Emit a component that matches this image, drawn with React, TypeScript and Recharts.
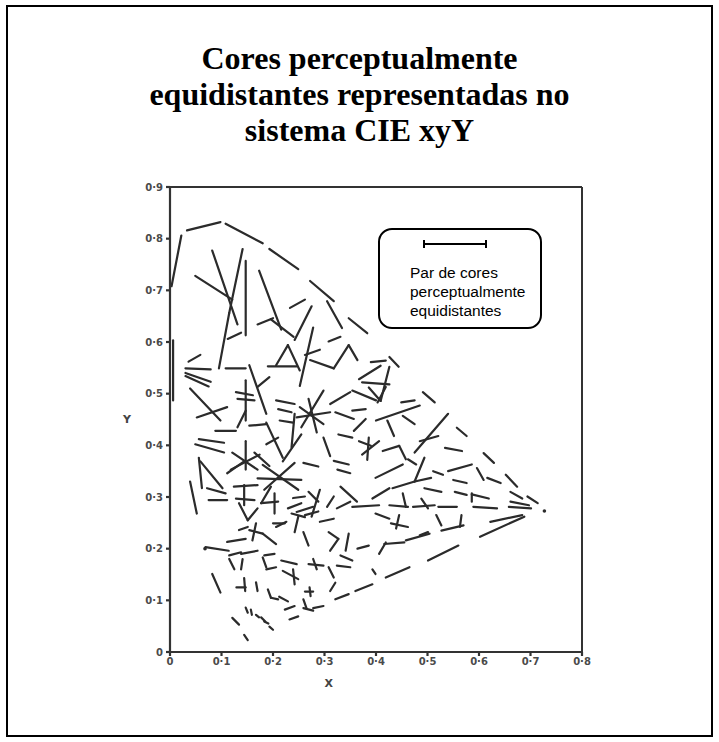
import React from "react";
import {
  ComposedChart,
  XAxis,
  YAxis,
  Scatter,
  ReferenceLine,
  Legend,
} from "recharts";

// axis ticks
const X_TICKS = [0, 0.1, 0.2, 0.3, 0.4, 0.5, 0.6, 0.7, 0.8];
const Y_TICKS = [0, 0.1, 0.2, 0.3, 0.4, 0.5, 0.6, 0.7, 0.8, 0.9];

// [x1, y1, x2, y2] in CIE xy units
const locusSegments = [
  [0.003, 0.708, 0.022, 0.806],
  [0.033, 0.816, 0.098, 0.832],
  [0.108, 0.829, 0.18, 0.791],
  [0.193, 0.78, 0.249, 0.741],
  [0.272, 0.718, 0.318, 0.679],
  [0.305, 0.679, 0.334, 0.627],
  [0.347, 0.646, 0.383, 0.617],
  [0.39, 0.561, 0.419, 0.564],
  [0.426, 0.571, 0.444, 0.552],
  [0.491, 0.503, 0.514, 0.483],
  [0.557, 0.434, 0.576, 0.418],
  [0.609, 0.385, 0.629, 0.366],
  [0.652, 0.343, 0.674, 0.32],
  [0.694, 0.301, 0.714, 0.288],
  [0.006, 0.603, 0.006, 0.487],
];

const purpleSegments = [
  [0.602, 0.223, 0.688, 0.262],
  [0.622, 0.252, 0.684, 0.265],
  [0.501, 0.177, 0.56, 0.206],
  [0.419, 0.144, 0.465, 0.164],
  [0.36, 0.118, 0.393, 0.131],
  [0.321, 0.102, 0.347, 0.112],
  [0.259, 0.085, 0.278, 0.08],
  [0.278, 0.085, 0.298, 0.089],
  [0.232, 0.063, 0.249, 0.069],
  [0.223, 0.082, 0.242, 0.089],
  [0.147, 0.086, 0.151, 0.076],
  [0.157, 0.082, 0.159, 0.072],
  [0.167, 0.072, 0.173, 0.067],
  [0.177, 0.067, 0.185, 0.059],
  [0.183, 0.059, 0.191, 0.055],
  [0.193, 0.049, 0.2, 0.043],
  [0.144, 0.033, 0.151, 0.023],
  [0.121, 0.066, 0.134, 0.053],
  [0.393, 0.16, 0.399, 0.151],
];

const upperPairs = [
  [0.082, 0.777, 0.131, 0.634],
  [0.141, 0.78, 0.115, 0.656],
  [0.115, 0.656, 0.095, 0.549],
  [0.049, 0.728, 0.121, 0.682],
  [0.147, 0.757, 0.147, 0.613],
  [0.173, 0.738, 0.216, 0.624],
  [0.17, 0.634, 0.2, 0.646],
  [0.196, 0.644, 0.24, 0.61],
  [0.233, 0.666, 0.262, 0.682],
  [0.275, 0.669, 0.242, 0.604],
  [0.112, 0.606, 0.138, 0.618],
  [0.278, 0.628, 0.252, 0.515],
  [0.308, 0.601, 0.331, 0.61],
  [0.206, 0.555, 0.229, 0.594],
  [0.229, 0.594, 0.252, 0.545],
  [0.19, 0.553, 0.246, 0.553],
  [0.262, 0.575, 0.291, 0.585],
  [0.272, 0.565, 0.318, 0.549],
  [0.318, 0.549, 0.347, 0.594],
  [0.347, 0.594, 0.364, 0.565],
  [0.036, 0.562, 0.059, 0.575],
  [0.03, 0.549, 0.079, 0.547],
  [0.03, 0.54, 0.079, 0.523],
  [0.03, 0.534, 0.075, 0.514],
  [0.108, 0.549, 0.147, 0.549],
  [0.154, 0.555, 0.187, 0.461],
  [0.147, 0.526, 0.147, 0.448],
  [0.128, 0.503, 0.161, 0.497],
  [0.131, 0.49, 0.164, 0.487],
  [0.17, 0.513, 0.193, 0.532],
  [0.039, 0.51, 0.098, 0.448],
  [0.052, 0.454, 0.111, 0.474],
  [0.206, 0.487, 0.242, 0.48],
  [0.21, 0.47, 0.236, 0.464],
  [0.311, 0.48, 0.35, 0.503],
  [0.321, 0.464, 0.357, 0.451],
  [0.367, 0.528, 0.409, 0.554],
  [0.373, 0.522, 0.426, 0.518],
  [0.386, 0.512, 0.409, 0.486],
  [0.426, 0.552, 0.409, 0.486],
  [0.354, 0.506, 0.4, 0.487],
  [0.403, 0.483, 0.419, 0.513],
  [0.449, 0.483, 0.475, 0.487],
  [0.354, 0.467, 0.38, 0.47],
  [0.4, 0.448, 0.485, 0.477],
];

const middlePairs = [
  [0.088, 0.428, 0.128, 0.428],
  [0.131, 0.435, 0.147, 0.467],
  [0.154, 0.438, 0.187, 0.441],
  [0.187, 0.444, 0.219, 0.376],
  [0.213, 0.448, 0.239, 0.444],
  [0.242, 0.461, 0.236, 0.396],
  [0.255, 0.435, 0.298, 0.506],
  [0.252, 0.474, 0.298, 0.441],
  [0.269, 0.49, 0.285, 0.425],
  [0.246, 0.454, 0.311, 0.464],
  [0.298, 0.415, 0.311, 0.379],
  [0.327, 0.421, 0.354, 0.415],
  [0.056, 0.412, 0.105, 0.405],
  [0.049, 0.402, 0.105, 0.386],
  [0.147, 0.408, 0.147, 0.353],
  [0.121, 0.386, 0.17, 0.353],
  [0.118, 0.353, 0.174, 0.382],
  [0.164, 0.386, 0.193, 0.36],
  [0.187, 0.402, 0.21, 0.415],
  [0.056, 0.376, 0.062, 0.317],
  [0.059, 0.369, 0.102, 0.317],
  [0.072, 0.317, 0.108, 0.307],
  [0.075, 0.294, 0.111, 0.294],
  [0.039, 0.33, 0.052, 0.268],
  [0.144, 0.323, 0.144, 0.284],
  [0.128, 0.297, 0.164, 0.294],
  [0.124, 0.32, 0.17, 0.323],
  [0.111, 0.346, 0.144, 0.369],
  [0.18, 0.362, 0.249, 0.314],
  [0.183, 0.314, 0.242, 0.366],
  [0.17, 0.336, 0.255, 0.333],
  [0.255, 0.421, 0.219, 0.369],
  [0.196, 0.32, 0.177, 0.288],
  [0.177, 0.288, 0.21, 0.291],
  [0.203, 0.307, 0.203, 0.268],
  [0.134, 0.288, 0.151, 0.255],
  [0.151, 0.255, 0.17, 0.278],
  [0.229, 0.278, 0.255, 0.288],
  [0.236, 0.268, 0.262, 0.261],
  [0.291, 0.314, 0.275, 0.262],
  [0.259, 0.366, 0.288, 0.359],
  [0.318, 0.37, 0.347, 0.363],
  [0.325, 0.353, 0.35, 0.346],
  [0.422, 0.448, 0.435, 0.418],
  [0.452, 0.457, 0.475, 0.441],
  [0.357, 0.428, 0.38, 0.451],
  [0.475, 0.386, 0.54, 0.461],
  [0.485, 0.408, 0.521, 0.418],
  [0.534, 0.395, 0.567, 0.389],
  [0.367, 0.408, 0.39, 0.399],
  [0.386, 0.415, 0.383, 0.372],
  [0.373, 0.382, 0.406, 0.408],
  [0.413, 0.389, 0.445, 0.399],
  [0.445, 0.399, 0.458, 0.373],
  [0.462, 0.373, 0.478, 0.363],
  [0.494, 0.376, 0.475, 0.33],
  [0.399, 0.337, 0.452, 0.363],
  [0.432, 0.317, 0.475, 0.33],
  [0.475, 0.33, 0.507, 0.337],
  [0.511, 0.35, 0.53, 0.343],
  [0.54, 0.35, 0.586, 0.363],
  [0.55, 0.333, 0.576, 0.327],
  [0.596, 0.356, 0.609, 0.333],
  [0.616, 0.337, 0.642, 0.327],
  [0.494, 0.317, 0.527, 0.31],
  [0.452, 0.307, 0.458, 0.281],
  [0.426, 0.284, 0.462, 0.281],
  [0.354, 0.281, 0.406, 0.284],
  [0.393, 0.297, 0.426, 0.317],
  [0.472, 0.281, 0.514, 0.284],
  [0.488, 0.297, 0.501, 0.278],
  [0.521, 0.281, 0.557, 0.281],
  [0.553, 0.31, 0.576, 0.304],
  [0.586, 0.307, 0.586, 0.291],
  [0.586, 0.305, 0.619, 0.297],
  [0.589, 0.281, 0.635, 0.278],
  [0.661, 0.31, 0.684, 0.297],
  [0.661, 0.291, 0.697, 0.284],
  [0.658, 0.281, 0.701, 0.278],
  [0.331, 0.32, 0.363, 0.291],
  [0.239, 0.298, 0.262, 0.301],
  [0.246, 0.271, 0.278, 0.281],
  [0.269, 0.31, 0.288, 0.291],
  [0.305, 0.281, 0.318, 0.301],
  [0.324, 0.278, 0.35, 0.291],
];

const lowerPairs = [
  [0.399, 0.268, 0.426, 0.258],
  [0.445, 0.265, 0.439, 0.239],
  [0.429, 0.249, 0.462, 0.242],
  [0.517, 0.265, 0.527, 0.245],
  [0.527, 0.235, 0.57, 0.245],
  [0.566, 0.265, 0.563, 0.242],
  [0.485, 0.226, 0.501, 0.232],
  [0.458, 0.216, 0.504, 0.229],
  [0.416, 0.209, 0.455, 0.212],
  [0.406, 0.19, 0.419, 0.212],
  [0.364, 0.2, 0.386, 0.206],
  [0.069, 0.203, 0.114, 0.196],
  [0.082, 0.151, 0.098, 0.115],
  [0.129, 0.125, 0.147, 0.125],
  [0.144, 0.143, 0.146, 0.118],
  [0.167, 0.135, 0.17, 0.118],
  [0.19, 0.121, 0.196, 0.105],
  [0.196, 0.105, 0.21, 0.102],
  [0.212, 0.107, 0.229, 0.098],
  [0.262, 0.117, 0.278, 0.117],
  [0.271, 0.125, 0.273, 0.108],
  [0.259, 0.102, 0.265, 0.085],
  [0.154, 0.236, 0.18, 0.229],
  [0.167, 0.249, 0.16, 0.216],
  [0.134, 0.236, 0.151, 0.242],
  [0.18, 0.229, 0.206, 0.209],
  [0.206, 0.242, 0.226, 0.252],
  [0.111, 0.213, 0.147, 0.219],
  [0.2, 0.249, 0.223, 0.249],
  [0.249, 0.262, 0.242, 0.232],
  [0.259, 0.232, 0.269, 0.206],
  [0.262, 0.265, 0.288, 0.272],
  [0.291, 0.252, 0.318, 0.258],
  [0.308, 0.232, 0.327, 0.219],
  [0.327, 0.219, 0.311, 0.196],
  [0.347, 0.229, 0.341, 0.196],
  [0.115, 0.187, 0.138, 0.193],
  [0.115, 0.18, 0.125, 0.16],
  [0.138, 0.19, 0.17, 0.196],
  [0.141, 0.18, 0.138, 0.16],
  [0.183, 0.187, 0.203, 0.19],
  [0.18, 0.183, 0.187, 0.164],
  [0.187, 0.16, 0.206, 0.164],
  [0.216, 0.177, 0.246, 0.17],
  [0.219, 0.157, 0.249, 0.141],
  [0.239, 0.16, 0.242, 0.131],
  [0.269, 0.17, 0.298, 0.167],
  [0.278, 0.18, 0.285, 0.16],
  [0.308, 0.164, 0.318, 0.144],
  [0.331, 0.187, 0.354, 0.177],
  [0.324, 0.167, 0.35, 0.164],
  [0.311, 0.118, 0.321, 0.134],
];

const looseDots = [
  { x: 0.727, y: 0.273 },
  { x: 0.068, y: 0.2 },
];

const INK = "#2b2b2b";
const fmt = (v: number) => (v === 0 ? "0" : `0·${Math.round(v * 10)}`);

const allSegments = [
  ...locusSegments,
  ...purpleSegments,
  ...upperPairs,
  ...middlePairs,
  ...lowerPairs,
];

const LegendBox = () => (
  <div
    style={{
      width: 164,
      height: 101,
      boxSizing: "border-box",
      border: "2px solid #000",
      borderRadius: 14,
      background: "#fff",
      position: "relative",
      fontFamily: "Arial, 'Liberation Sans', sans-serif",
      fontSize: 15.5,
      lineHeight: "19px",
      color: "#000",
      textAlign: "left",
    }}
  >
    <svg width={70} height={10} style={{ position: "absolute", left: 42, top: 9 }}>
      <line x1={2} y1={5} x2={64} y2={5} stroke="#000" strokeWidth={2} />
      <line x1={2} y1={1} x2={2} y2={9} stroke="#000" strokeWidth={2} />
      <line x1={64} y1={1} x2={64} y2={9} stroke="#000" strokeWidth={2} />
    </svg>
    <div style={{ position: "absolute", left: 30, top: 33 }}>
      Par de cores
      <br />
      perceptualmente
      <br />
      equidistantes
    </div>
  </div>
);

export default function App() {
  const tickStyle = {
    fontSize: 10,
    fontWeight: 700,
    fill: "#4a4a4a",
    fontFamily: "'DejaVu Sans', sans-serif",
  };
  return (
    <div style={{ position: "absolute", left: 0, top: 0, width: 719, height: 742, background: "#fff" }}>
      <div
        style={{
          position: "absolute",
          left: 6,
          top: 5,
          width: 707,
          height: 732,
          boxSizing: "border-box",
          border: "2px solid #000",
        }}
      />
      <div
        style={{
          position: "absolute",
          left: 6,
          top: 40,
          width: 707,
          textAlign: "center",
          fontFamily: "'Liberation Serif', 'Times New Roman', serif",
          fontWeight: 700,
          fontSize: 32,
          lineHeight: "36px",
          color: "#000",
        }}
      >
        Cores perceptualmente
        <br />
        equidistantes representadas no
        <br />
        sistema CIE xyY
      </div>
      <div style={{ position: "absolute", left: 100, top: 170 }}>
        <ComposedChart
          width={500}
          height={530}
          margin={{ top: 17, right: 18, left: 20, bottom: 18 }}
        >
          <XAxis
            xAxisId={0}
            dataKey="x"
            type="number"
            domain={[0, 0.8]}
            ticks={X_TICKS}
            tickFormatter={fmt}
            allowDataOverflow
            height={30}
            stroke="#333"
            strokeWidth={2.2}
            tickSize={4}
            tickMargin={2}
            tick={tickStyle}
            label={{
              value: "X",
              content: (props: any) => {
                const vb = props.viewBox;
                return (
                  <text
                    x={vb.x + vb.width * 0.385}
                    y={vb.y + 35}
                    textAnchor="middle"
                    fontSize={11}
                    fontWeight={700}
                    fill="#444"
                    fontFamily="'DejaVu Sans', sans-serif"
                  >
                    X
                  </text>
                );
              },
            }}
          />
          <XAxis
            xAxisId="top"
            orientation="top"
            type="number"
            domain={[0, 0.8]}
            ticks={X_TICKS}
            allowDataOverflow
            height={5}
            stroke="#333"
            strokeWidth={2}
            tickSize={5}
            mirror
            tick={false}
          />
          <YAxis
            yAxisId={0}
            dataKey="y"
            type="number"
            domain={[0, 0.9]}
            ticks={Y_TICKS}
            tickFormatter={fmt}
            allowDataOverflow
            width={50}
            stroke="#333"
            strokeWidth={2.2}
            tickSize={4}
            tickMargin={3}
            tick={tickStyle}
            label={{
              value: "Y",
              position: "insideLeft",
              offset: 3,
              style: { fontSize: 11, fontWeight: 700, fill: "#444", fontFamily: "'DejaVu Sans', sans-serif" },
            }}
          />
          <YAxis
            yAxisId="right"
            orientation="right"
            type="number"
            domain={[0, 0.9]}
            ticks={Y_TICKS}
            allowDataOverflow
            width={5}
            stroke="#333"
            strokeWidth={2}
            tickSize={5}
            mirror
            tick={false}
          />
          {allSegments.map((s, i) => (
            <ReferenceLine
              key={i}
              segment={[
                { x: s[0], y: s[1] },
                { x: s[2], y: s[3] },
              ]}
              stroke={INK}
              strokeWidth={2.2}
              strokeLinecap="round"
              ifOverflow="visible"
            />
          ))}
          <Scatter
            data={looseDots}
            fill={INK}
            shape={(p: any) => <circle cx={p.cx} cy={p.cy} r={1.8} fill={INK} />}
            isAnimationActive={false}
          />
          <Legend
            layout="vertical"
            align="center"
            verticalAlign="middle"
            content={() => <LegendBox />}
            wrapperStyle={{ left: 278, top: 58, width: 164, height: 101 }}
          />
        </ComposedChart>
      </div>
    </div>
  );
}
